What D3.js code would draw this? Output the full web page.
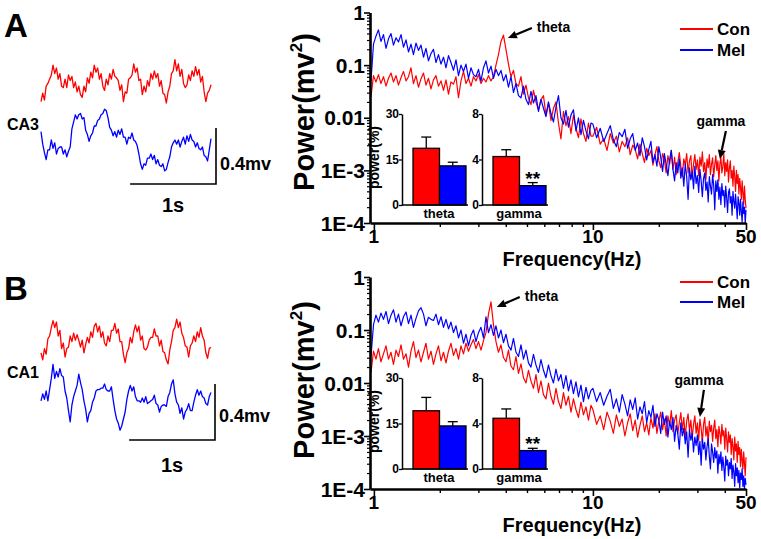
<!DOCTYPE html>
<html><head><meta charset="utf-8">
<script src="https://cdn.jsdelivr.net/npm/d3@7"></script>
<style>body{margin:0;background:#fff}</style>
</head><body><script>
// ---------------- DATA ----------------
// spectrum sampling frequencies (Hz)
const freqHz = [0.970,0.996,1.022,1.049,1.077,1.106,1.136,1.166,1.197,1.229,
1.262,1.295,1.330,1.365,1.402,1.439,1.477,1.516,1.557,1.598,
1.641,1.685,1.729,1.775,1.823,1.871,1.921,1.972,2.025,2.079,
2.134,2.191,2.249,2.309,2.371,2.434,2.499,2.565,2.633,2.704,
2.776,2.849,2.925,3.003,3.083,3.165,3.249,3.336,3.425,3.516,
3.609,3.705,3.804,3.905,4.009,4.116,4.226,4.338,4.454,4.572,
4.694,4.819,4.947,5.079,5.214,5.353,5.496,5.642,5.792,5.947,
6.105,6.267,6.434,6.606,6.781,6.962,7.147,7.338,7.533,7.734,
7.940,8.151,8.368,8.591,8.820,9.055,9.296,9.543,9.797,
10.0,10.4,10.8,11.2,11.6,12.0,12.4,12.8,13.2,13.6,
14.0,14.4,14.8,15.2,15.6,16.0,16.4,16.8,17.2,17.6,
18.0,18.4,18.8,19.2,19.6,20.0,20.4,20.8,21.2,21.6,
22.0,22.4,22.8,23.2,23.6,24.0,24.4,24.8,25.2,25.6,
26.0,26.4,26.8,27.2,27.6,28.0,28.4,28.8,29.2,29.6,
30.0,30.4,30.8,31.2,31.6,32.0,32.4,32.8,33.2,33.6,
34.0,34.4,34.8,35.2,35.6,36.0,36.4,36.8,37.2,37.6,
38.0,38.4,38.8,39.2,39.6,40.0,40.4,40.8,41.2,41.6,
42.0,42.4,42.8,43.2,43.6,44.0,44.4,44.8,45.2,45.6,
46.0,46.4,46.8,47.2,47.6,48.0,48.4,48.8,49.2,49.6,
50.0];
// log10 of power (mV^2), one value per frequency above
const conA_log10 = [-1.60,-1.20,-1.32,-1.18,-1.35,-1.22,-1.40,-1.25,-1.15,-1.32,
-1.20,-1.38,-1.24,-1.12,-1.30,-1.22,-1.05,-1.35,-1.20,-1.42,
-1.26,-1.15,-1.38,-1.25,-1.45,-1.28,-1.20,-1.40,-1.30,-1.48,
-1.28,-1.55,-1.32,-1.36,-1.22,-1.62,-1.30,-1.12,-1.35,-1.25,
-1.40,-1.22,-1.30,-1.18,-1.35,-1.25,-1.32,-1.20,-1.30,-1.22,
-1.00,-0.80,-0.55,-0.43,-0.70,-0.98,-1.22,-1.10,-1.35,-1.40,
-1.22,-1.55,-1.38,-1.62,-1.75,-1.48,-1.70,-1.85,-1.66,-1.58,
-1.95,-1.72,-2.05,-1.82,-1.70,-2.10,-2.40,-1.88,-2.15,-1.98,
-2.30,-1.95,-2.20,-2.38,-2.02,-2.30,-2.45,-2.10,-2.35,
-2.35,-2.18,-2.50,-2.40,-2.62,-2.30,-2.48,-2.35,-2.65,-2.45,
-2.55,-2.38,-2.70,-2.52,-2.60,-2.78,-2.50,-2.68,-2.85,-2.58,
-2.72,-2.62,-2.90,-2.70,-2.55,-2.82,-2.95,-2.68,-2.80,-3.05,
-2.72,-2.88,-2.62,-2.98,-2.75,-3.08,-2.85,-2.66,-2.92,-3.12,
-2.78,-2.90,-2.68,-3.05,-2.82,-2.72,-3.15,-2.88,-2.70,-2.98,
-2.80,-3.10,-2.75,-2.92,-2.65,-3.02,-2.85,-3.18,-2.78,-2.95,
-2.70,-3.08,-2.88,-2.76,-3.12,-2.90,-2.72,-3.00,-2.82,-3.20,
-2.88,-2.75,-3.05,-2.92,-2.68,-3.10,-2.85,-3.02,-2.80,-3.22,
-2.95,-2.82,-3.15,-3.00,-3.30,-2.92,-3.12,-3.40,-3.00,-3.25,
-3.08,-3.45,-3.15,-3.32,-3.55,-3.20,-3.42,-3.65,-3.30,-3.55,
-3.72];
const melA_log10 = [-1.30,-0.60,-0.45,-0.33,-0.55,-0.42,-0.68,-0.50,-0.40,-0.62,
-0.48,-0.56,-0.42,-0.66,-0.52,-0.75,-0.60,-0.80,-0.58,-0.72,
-0.62,-0.85,-0.68,-0.92,-0.78,-0.70,-0.95,-0.80,-0.98,-0.85,
-1.05,-0.82,-0.95,-1.10,-0.90,-1.20,-1.00,-1.12,-0.98,-1.25,
-1.05,-1.18,-1.22,-1.08,-1.30,-1.05,-0.92,-1.15,-1.02,-1.25,
-1.08,-1.20,-1.10,-1.30,-1.18,-1.42,-1.22,-1.52,-1.35,-1.58,
-1.62,-1.40,-1.65,-1.75,-1.50,-1.72,-1.58,-1.88,-1.65,-1.82,
-1.98,-1.70,-1.92,-2.08,-1.80,-1.58,-2.00,-2.12,-1.86,-2.18,
-1.95,-1.85,-2.25,-2.00,-2.32,-2.05,-2.25,-2.40,-2.10,
-2.12,-2.38,-2.20,-2.45,-2.30,-2.15,-2.42,-2.55,-2.28,-2.36,
-2.22,-2.58,-2.40,-2.30,-2.62,-2.48,-2.72,-2.38,-2.55,-2.80,
-2.60,-2.45,-2.85,-2.70,-2.92,-2.55,-2.75,-3.02,-2.68,-2.88,
-3.10,-2.80,-2.62,-2.98,-3.20,-2.85,-3.05,-2.78,-3.15,-2.95,
-3.30,-2.88,-3.12,-3.55,-2.95,-3.18,-3.02,-3.35,-2.92,-3.25,
-3.10,-3.42,-2.98,-3.20,-3.50,-3.15,-3.05,-3.38,-3.22,-3.60,
-3.12,-3.30,-3.45,-3.08,-3.28,-3.75,-3.20,-3.40,-3.18,-3.55,
-3.32,-3.65,-3.25,-3.48,-3.38,-3.70,-3.30,-3.52,-3.80,-3.42,
-3.35,-3.62,-3.50,-3.85,-3.40,-3.58,-3.72,-3.45,-3.68,-3.92,
-3.50,-3.62,-3.85,-3.55,-3.78,-3.98,-3.60,-3.82,-3.70,-4.00,
-3.75];
const conB_log10 = [-1.80,-1.40,-1.55,-1.35,-1.60,-1.45,-1.30,-1.55,-1.42,-1.65,
-1.38,-1.50,-1.28,-1.55,-1.45,-1.70,-1.40,-1.22,-1.52,-1.38,
-1.60,-1.42,-1.25,-1.55,-1.40,-1.65,-1.45,-1.30,-1.58,-1.42,
-1.62,-1.40,-1.25,-1.48,-1.35,-1.55,-1.30,-1.45,-1.25,-1.40,
-1.28,-1.18,-1.35,-1.22,-1.38,-1.20,-1.05,-0.70,-0.47,-0.90,
-1.22,-1.42,-1.28,-1.52,-1.60,-1.38,-1.68,-1.75,-1.50,-1.82,
-1.64,-1.90,-2.00,-1.76,-1.96,-2.10,-1.84,-2.18,-1.96,-2.22,
-2.30,-2.00,-2.25,-2.40,-2.10,-2.35,-2.48,-2.18,-2.42,-2.25,
-2.55,-2.30,-2.50,-2.65,-2.36,-2.60,-2.45,-2.70,-2.42,
-2.50,-2.78,-2.62,-2.88,-2.55,-2.72,-2.95,-2.60,-2.82,-2.68,
-3.00,-2.75,-2.58,-2.90,-2.70,-3.02,-2.80,-2.62,-2.92,-2.75,
-2.98,-2.66,-2.85,-2.58,-2.95,-2.72,-2.55,-2.88,-2.68,-3.00,
-2.62,-2.80,-2.52,-2.92,-2.70,-2.60,-2.95,-2.75,-2.56,-2.88,
-2.65,-3.02,-2.72,-2.58,-2.90,-2.70,-3.05,-2.78,-2.62,-2.95,
-2.75,-3.08,-2.68,-2.85,-3.12,-2.78,-2.65,-3.00,-2.82,-3.15,
-2.72,-2.92,-2.80,-3.10,-2.85,-2.70,-3.05,-2.88,-3.20,-2.82,
-2.95,-3.15,-2.78,-3.00,-2.90,-3.25,-2.85,-3.05,-3.30,-2.92,
-3.12,-2.98,-3.35,-3.05,-3.20,-3.45,-3.02,-3.28,-3.15,-3.50,
-3.10,-3.35,-3.22,-3.58,-3.25,-3.45,-3.62,-3.30,-3.52,-3.75,
-3.40];
const melB_log10 = [-1.50,-0.90,-0.72,-0.85,-0.68,-0.80,-0.65,-0.88,-0.72,-0.62,
-0.85,-0.70,-0.92,-0.75,-0.66,-0.88,-0.72,-0.95,-0.78,-0.64,
-0.58,-0.70,-0.92,-0.76,-0.80,-0.82,-0.70,-0.90,-0.75,-0.95,
-0.80,-0.98,-0.85,-1.05,-0.92,-1.15,-1.00,-1.25,-1.08,-1.30,
-1.10,-1.00,-1.22,-1.05,-0.95,-1.15,-0.75,-1.05,-0.90,-1.10,
-0.92,-1.15,-1.00,-1.24,-1.08,-1.30,-1.38,-1.16,-1.42,-1.50,
-1.28,-1.55,-1.38,-1.62,-1.70,-1.46,-1.66,-1.80,-1.56,-1.76,
-1.90,-1.66,-1.86,-2.00,-1.74,-1.96,-1.84,-2.10,-1.86,-2.15,
-1.94,-2.20,-1.98,-2.26,-2.04,-2.35,-2.08,-2.30,-2.14,
-2.10,-2.35,-2.18,-2.42,-2.25,-2.12,-2.48,-2.30,-2.55,-2.22,
-2.40,-2.62,-2.32,-2.50,-2.28,-2.68,-2.45,-2.58,-2.35,-2.75,
-2.52,-2.65,-2.42,-2.82,-2.58,-2.70,-2.95,-2.55,-2.78,-2.62,
-3.02,-2.72,-2.88,-2.65,-3.10,-2.80,-2.95,-3.25,-2.75,-3.00,
-2.85,-3.15,-2.92,-3.40,-2.88,-3.08,-2.95,-3.30,-3.02,-3.18,
-2.98,-3.35,-3.10,-3.55,-3.05,-3.25,-3.12,-3.45,-3.20,-3.05,
-3.38,-3.62,-3.15,-3.30,-3.50,-3.22,-3.42,-3.28,-3.70,-3.35,
-3.52,-3.30,-3.65,-3.40,-3.58,-3.85,-3.38,-3.55,-3.45,-3.75,
-3.50,-3.62,-3.42,-3.80,-3.55,-3.68,-3.95,-3.52,-3.75,-3.60,
-3.88,-3.65,-3.98,-3.70,-3.82,-3.62,-3.95,-3.75,-4.00,-3.80,
-3.92];

// raw LFP traces, mV, one sample every 0.02 s
const traceConA = [-0.14,-0.08,-0.13,-0.03,-0.01,0.02,0.05,0.12,0.06,0.10,
0.02,0.06,-0.03,-0.04,0.02,-0.04,0.05,0.01,0.04,-0.04,
0.00,-0.07,-0.03,-0.09,-0.11,-0.03,-0.07,0.03,-0.01,0.07,
0.03,0.12,0.07,0.10,0.02,0.06,-0.03,-0.06,0.02,-0.02,
0.06,0.02,0.09,0.04,0.03,0.01,-0.06,-0.02,-0.14,-0.07,
-0.08,0.02,0.03,0.05,0.13,0.07,0.10,0.01,0.02,-0.09,
-0.03,-0.07,0.01,-0.03,0.06,0.02,0.08,0.03,0.06,-0.03,
0.01,-0.08,-0.09,-0.15,-0.07,-0.03,0.06,0.08,0.16,0.08,
0.13,0.04,0.09,-0.01,-0.04,-0.02,0.05,0.01,0.08,0.04,
0.11,0.05,0.09,0.00,0.04,-0.07,-0.14,-0.08,-0.06,-0.02];
const traceMelA = [0.06,-0.03,-0.09,-0.14,-0.07,-0.07,0.00,-0.06,-0.02,-0.10,
-0.06,-0.05,-0.05,-0.10,-0.07,-0.12,-0.08,-0.05,0.08,0.13,
0.18,0.15,0.18,0.19,0.15,0.16,0.07,0.04,-0.01,0.03,
0.05,0.10,0.10,0.14,0.15,0.18,0.19,0.22,0.21,0.16,
0.09,0.07,0.03,0.06,0.02,0.07,0.04,0.08,0.02,0.02,
-0.03,0.02,0.01,0.05,0.00,-0.01,-0.04,-0.10,-0.17,-0.21,
-0.17,-0.18,-0.13,-0.13,-0.10,-0.14,-0.11,-0.17,-0.14,-0.18,
-0.19,-0.17,-0.22,-0.21,-0.16,-0.12,-0.05,-0.02,0.00,-0.03,
0.00,-0.05,-0.01,0.02,-0.03,0.03,-0.01,0.04,0.00,-0.01,
-0.05,-0.02,-0.06,-0.07,-0.05,-0.11,-0.12,-0.15,-0.07,0.01];
const traceConB = [-0.07,-0.12,-0.04,-0.08,0.03,0.05,0.11,0.16,0.11,0.15,
0.05,0.09,-0.04,0.00,-0.10,-0.04,-0.03,0.05,0.01,0.07,
0.02,0.06,0.02,-0.03,0.02,-0.07,-0.01,0.04,0.00,0.08,
0.04,0.12,0.14,0.08,0.12,0.04,0.08,0.00,-0.02,0.05,
0.01,0.09,0.09,0.14,0.07,0.10,0.01,0.01,-0.08,-0.14,
-0.07,-0.04,0.04,0.00,0.08,0.13,0.08,0.12,0.02,0.05,
-0.04,-0.05,-0.03,0.02,0.04,0.04,0.10,0.05,0.05,-0.02,
0.02,-0.06,-0.07,-0.12,-0.15,-0.05,0.01,0.09,0.11,0.17,
0.11,0.15,0.07,0.04,-0.02,-0.03,-0.10,-0.02,0.00,0.05,
0.01,0.08,0.04,0.11,0.05,0.02,-0.07,-0.11,-0.04,-0.03];
const traceMelB = [-0.02,0.03,-0.01,0.05,-0.02,0.06,0.14,0.24,0.14,0.19,
0.15,0.21,0.16,0.15,0.05,0.00,-0.09,-0.17,-0.05,0.01,
0.05,0.09,0.17,0.11,0.06,-0.02,-0.08,-0.17,-0.11,-0.09,
-0.03,0.00,0.05,0.06,0.06,0.07,0.07,0.10,0.06,0.05,
0.05,0.08,-0.01,-0.09,-0.15,-0.18,-0.23,-0.20,-0.15,-0.10,
-0.01,0.05,0.09,0.05,0.08,0.01,-0.02,-0.02,-0.03,0.00,
-0.03,0.01,-0.04,-0.03,-0.02,-0.01,0.02,-0.04,-0.05,-0.10,
-0.06,-0.05,-0.05,-0.06,0.01,0.04,0.10,0.13,0.03,-0.03,
-0.05,-0.11,-0.07,-0.15,-0.10,-0.08,-0.04,-0.09,-0.09,-0.03,
0.02,0.06,0.02,0.05,0.01,0.00,-0.04,-0.05,0.01,0.04];

// inset bar charts: power (%) mean and SEM, order [Con, Mel]
const groups = ["Con", "Mel"];
const thetaA = [18.7, 12.9], thetaA_err = [3.7, 1.2];
const gammaA = [4.26, 1.70], gammaA_err = [0.6, 0.27];
const thetaB = [19.2, 14.2], thetaB_err = [4.4, 1.4];
const gammaB = [4.46, 1.62], gammaB_err = [0.82, 0.2];

// tick labels
const specYTicks = [1, 0.1, 0.01, 0.001, 0.0001];
const specYLabels = ["1", "0.1", "0.01", "1E-3", "1E-4"];
const specXTicks = [1, 10, 50];
const specXLabels = ["1", "10", "50"];
const thetaTicks = [0, 15, 30];
const gammaTicks = [0, 4, 8];

// ---------------- DRAWING ----------------
const RED = "#ff0000", BLUE = "#0000ff";
const colorOf = {Con: RED, Mel: BLUE};
const FONT = "'Liberation Sans', Arial, sans-serif";

const svg = d3.select("body").append("svg")
  .attr("width", 761).attr("height", 539)
  .style("font-family", FONT).style("font-weight", "bold");

const layouts = [
  {letter: "A", letterY: 37, region: "CA3", regionY: 130, conY: 82, melY: 140,
   sbX: 216, sbY: 184, mvY: 170, sY: 212,
   specTop: 12.5, specBot: 223, ylabY: 112, legY: [29, 50],
   insTop: 114, insBot: 205, theta: thetaA, thetaErr: thetaA_err, gamma: gammaA, gammaErr: gammaA_err,
   thetaAnn: {f: 4.09, p: 0.327, dx: 24, dy: -10}, gammaAnn: {f: 38, p: 1.64e-3, dx: 6, dy: -28},
   con: conA_log10, mel: melA_log10, trCon: traceConA, trMel: traceMelA},
  {letter: "B", letterY: 300, region: "CA1", regionY: 378, conY: 343, melY: 398,
   sbX: 215, sbY: 440, mvY: 422, sY: 472,
   specTop: 277, specBot: 489, ylabY: 380, legY: [282, 302],
   insTop: 378, insBot: 469, theta: thetaB, thetaErr: thetaB_err, gamma: gammaB, gammaErr: gammaB_err,
   thetaAnn: {f: 3.64, p: 0.272, dx: 23, dy: -10}, gammaAnn: {f: 30.8, p: 2.29e-3, dx: 4, dy: -27},
   con: conB_log10, mel: melB_log10, trCon: traceConB, trMel: traceMelB}
];

function arrow(g, x1, y1, x2, y2) {
  const a = Math.atan2(y2 - y1, x2 - x1), L = 9, W = 4;
  const bx = x2 - L * Math.cos(a), by = y2 - L * Math.sin(a);
  g.append("line").attr("x1", x1).attr("y1", y1).attr("x2", bx).attr("y2", by)
    .attr("stroke", "#000").attr("stroke-width", 2.2);
  g.append("path").attr("fill", "#000")
    .attr("d", `M${x2},${y2}L${bx + W * Math.sin(a)},${by - W * Math.cos(a)}L${bx - W * Math.sin(a)},${by + W * Math.cos(a)}Z`);
}

function inset(g, axisX, top, bot, maxV, ticks, vals, errs, cat, withYLabel, stars) {
  const y = d3.scaleLinear().domain([0, maxV]).range([bot, top]);
  const xb = d3.scaleBand().domain(groups).range([axisX + 11, axisX + 64]);
  g.selectAll(null).data(groups).join("rect")
    .attr("x", d => xb(d)).attr("width", xb.bandwidth())
    .attr("y", (d, i) => y(vals[i])).attr("height", (d, i) => bot - y(vals[i]))
    .attr("fill", d => colorOf[d]).attr("stroke", "#000").attr("stroke-width", 1.3);
  groups.forEach((d, i) => {
    const cx = xb(d) + xb.bandwidth() / 2;
    g.append("line").attr("x1", cx).attr("x2", cx).attr("y1", y(vals[i])).attr("y2", y(vals[i] + errs[i]))
      .attr("stroke", "#000").attr("stroke-width", 1.3);
    g.append("line").attr("x1", cx - 5).attr("x2", cx + 5).attr("y1", y(vals[i] + errs[i])).attr("y2", y(vals[i] + errs[i]))
      .attr("stroke", "#000").attr("stroke-width", 1.3);
  });
  const ax = g.append("g").attr("transform", `translate(${axisX},0)`)
    .call(d3.axisLeft(y).tickValues(ticks).tickSize(3).tickSizeOuter(0).tickFormat(""));
  ax.select(".domain").attr("stroke-width", 1.5);
  ax.selectAll(".tick line").attr("stroke-width", 1.3);
  g.append("line").attr("x1", axisX).attr("x2", axisX + 66).attr("y1", bot).attr("y2", bot)
    .attr("stroke", "#000").attr("stroke-width", 1.5);
  ticks.forEach(t => g.append("text").attr("x", axisX - 3).attr("y", y(t)).attr("dy", "0.36em")
    .attr("text-anchor", "end").attr("font-size", 12).text(t));
  g.append("text").attr("x", axisX + 37).attr("y", bot + 13).attr("text-anchor", "middle")
    .attr("font-size", 13).text(cat);
  if (withYLabel) {
    g.append("text").attr("transform", `translate(${axisX - 23},${(top + bot) / 2 - 2}) rotate(-90)`)
      .attr("text-anchor", "middle").attr("font-size", 14).text("power(%)");
  }
  if (stars) {
    const cx = xb("Mel") + xb.bandwidth() / 2;
    g.append("text").attr("x", cx).attr("y", y(vals[1] + errs[1]) + 2).attr("text-anchor", "middle")
      .attr("font-size", 19).text("**");
  }
}

layouts.forEach(L => {
  const g = svg.append("g");
  g.append("text").attr("x", 4).attr("y", L.letterY).attr("font-size", 33).text(L.letter);
  g.append("text").attr("x", 7).attr("y", L.regionY).attr("font-size", 16).text(L.region);

  // ---- raw traces ----
  const tx = d3.scaleLinear().domain([0, L.trCon.length - 1]).range([41, 211]);
  const mvPx = 140; // px per mV
  [[L.trCon, L.conY, RED], [L.trMel, L.melY, BLUE]].forEach(([arr, cy, col]) => {
    const ty = d3.scaleLinear().domain([-1, 1]).range([cy + mvPx, cy - mvPx]);
    g.append("path").datum(arr).attr("fill", "none").attr("stroke", col).attr("stroke-width", 1.3)
      .attr("stroke-linejoin", "round")
      .attr("d", d3.line().x((d, i) => tx(i)).y(d => ty(d)));
  });
  // scale bars: 1 s (50 samples) and 0.4 mV
  const secPx = tx(50) - tx(0);
  g.append("path").attr("fill", "none").attr("stroke", "#000").attr("stroke-width", 1.6)
    .attr("d", `M${L.sbX - secPx},${L.sbY}H${L.sbX}V${L.sbY - 0.4 * mvPx}`);
  g.append("text").attr("x", L.sbX + 4).attr("y", L.mvY).attr("font-size", 18).text("0.4mv");
  g.append("text").attr("x", L.sbX - secPx / 2).attr("y", L.sY).attr("text-anchor", "middle")
    .attr("font-size", 20).text("1s");

  // ---- spectrum ----
  const x = d3.scaleLog().domain([0.96, 50]).range([370, 746]);
  const y = d3.scaleLog().domain([1e-4, 1]).range([L.specBot, L.specTop]);
  const line = d3.line().x((d, i) => x(freqHz[i])).y(d => y(Math.pow(10, d)));
  g.append("path").datum(L.con).attr("fill", "none").attr("stroke", RED).attr("stroke-width", 1.2)
    .attr("stroke-linejoin", "round").attr("d", line);
  g.append("path").datum(L.mel).attr("fill", "none").attr("stroke", BLUE).attr("stroke-width", 1.2)
    .attr("stroke-linejoin", "round").attr("d", line);

  // y axis
  const minorY = [];
  [-4, -3, -2, -1].forEach(k => { for (let m = 2; m <= 9; m++) minorY.push(m * Math.pow(10, k)); });
  const yAx = g.append("g").attr("transform", "translate(370,0)")
    .call(d3.axisLeft(y).tickValues(specYTicks).tickSize(6).tickSizeOuter(0).tickFormat(""));
  yAx.select(".domain").attr("stroke-width", 2.6);
  yAx.selectAll(".tick line").attr("stroke-width", 1.6);
  const yMin = g.append("g").attr("transform", "translate(370,0)")
    .call(d3.axisLeft(y).tickValues(minorY).tickSize(3).tickFormat(""));
  yMin.select(".domain").remove();
  yMin.selectAll(".tick line").attr("stroke-width", 1.2);
  specYTicks.forEach((t, i) => g.append("text").attr("x", 365).attr("y", y(t)).attr("dy", "0.36em")
    .attr("text-anchor", "end").attr("font-size", 21).text(specYLabels[i]));

  // x axis
  const xAx = g.append("g").attr("transform", `translate(0,${L.specBot})`)
    .call(d3.axisBottom(x).tickValues(specXTicks).tickSize(7).tickSizeOuter(0).tickFormat(""));
  xAx.select(".domain").attr("stroke-width", 2.6);
  xAx.selectAll(".tick line").attr("stroke-width", 1.6);
  const xMin = g.append("g").attr("transform", `translate(0,${L.specBot})`)
    .call(d3.axisBottom(x).tickValues([2, 3, 4, 5, 6, 7, 8, 9, 20, 30, 40]).tickSize(4).tickFormat(""));
  xMin.select(".domain").remove();
  xMin.selectAll(".tick line").attr("stroke-width", 1.4);
  specXTicks.forEach((t, i) => g.append("text").attr("x", x(t)).attr("y", L.specBot + 20)
    .attr("text-anchor", "middle").attr("font-size", 19).text(specXLabels[i]));

  // axis titles
  g.append("text").attr("x", 572).attr("y", L.specBot + 43).attr("text-anchor", "middle")
    .attr("font-size", 20).text("Frequency(Hz)");
  const yl = g.append("text").attr("transform", `translate(314,${L.ylabY}) rotate(-90)`)
    .attr("text-anchor", "middle").attr("font-size", 29);
  yl.append("tspan").text("Power(mv");
  yl.append("tspan").attr("font-size", 17).attr("dy", -12).text("2");
  yl.append("tspan").attr("dy", 12).text(")");

  // legend
  groups.forEach((gname, i) => {
    g.append("line").attr("x1", 680).attr("x2", 713).attr("y1", L.legY[i]).attr("y2", L.legY[i])
      .attr("stroke", colorOf[gname]).attr("stroke-width", 2.2);
    g.append("text").attr("x", 717).attr("y", L.legY[i]).attr("dy", "0.36em")
      .attr("font-size", 17).text(gname);
  });

  // annotations
  const tA = L.thetaAnn, gA = L.gammaAnn;
  const tx2 = x(tA.f), ty2 = y(tA.p);
  arrow(g, tx2 + tA.dx, ty2 + tA.dy, tx2, ty2);
  g.append("text").attr("x", tx2 + tA.dx + 5).attr("y", ty2 + tA.dy + 4).attr("font-size", 14).text("theta");
  const gx2 = x(gA.f), gy2 = y(gA.p);
  arrow(g, gx2 + gA.dx, gy2 + gA.dy, gx2, gy2);
  g.append("text").attr("x", gx2 + gA.dx - 5).attr("y", gy2 + gA.dy - 5).attr("text-anchor", "middle")
    .attr("font-size", 14).text("gamma");

  // insets
  inset(g, 402, L.insTop, L.insBot, 30, thetaTicks, L.theta, L.thetaErr, "theta", true, false);
  inset(g, 482, L.insTop, L.insBot, 8, gammaTicks, L.gamma, L.gammaErr, "gamma", false, true);
});
</script></body></html>
